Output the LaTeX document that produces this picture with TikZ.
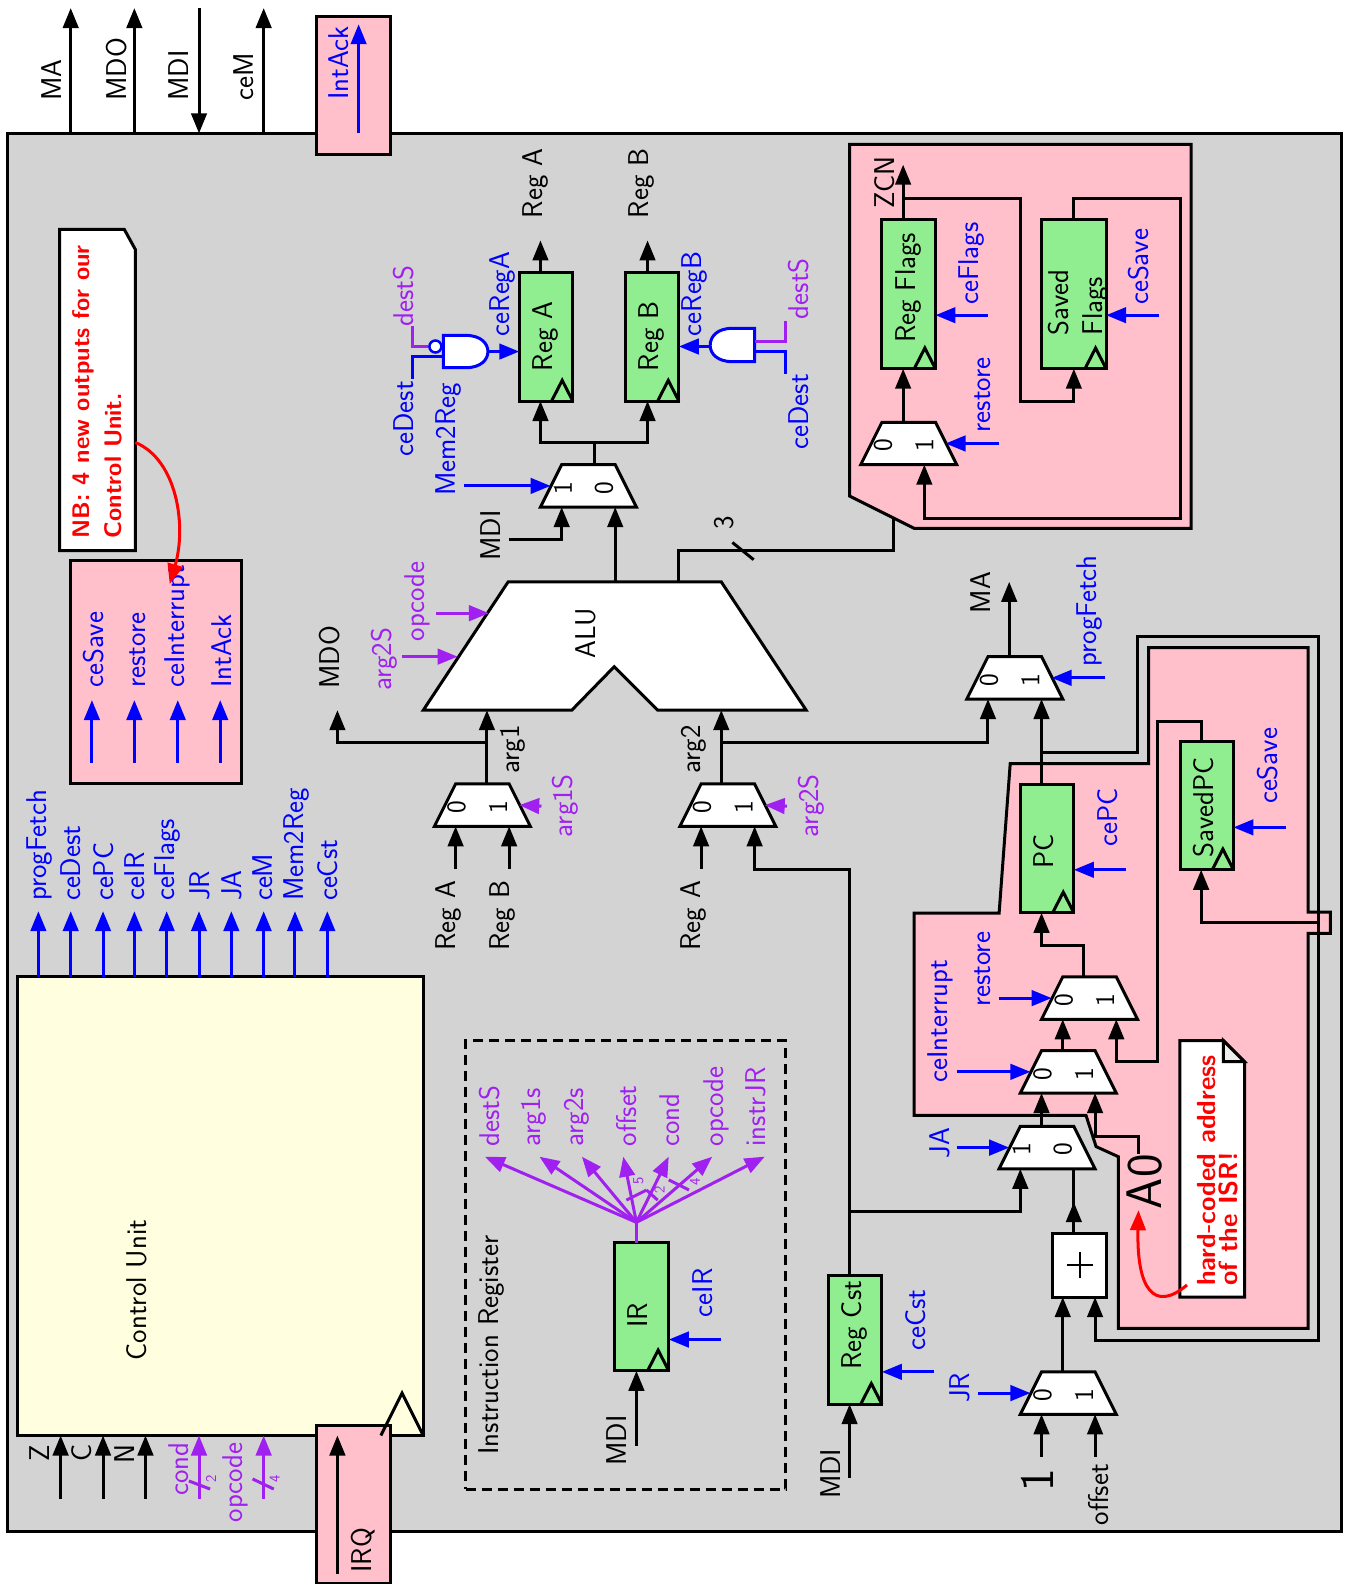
\documentclass[tikz,border=0pt]{standalone}
\usepackage{fontspec}
\renewcommand\familydefault{\sfdefault}
\usetikzlibrary{arrows.meta,fit}
\definecolor{cgray}{HTML}{D3D3D3}
\definecolor{cpink}{HTML}{FFC0CB}
\definecolor{cgreen}{HTML}{90EE90}
\definecolor{cyel}{HTML}{FFFFE0}
\definecolor{cpur}{HTML}{A020F0}
\definecolor{cblue}{HTML}{0000FF}
\definecolor{cred}{HTML}{FF0000}
\tikzset{
  bw/.style={draw=black,line width=3pt},
  bl/.style={draw=cblue,line width=3pt},
  pu/.style={draw=cpur,line width=3pt},
  rd/.style={draw=cred,line width=3pt},
  shapebox/.style={draw=black,line width=3pt,line join=miter},
  regbox/.style={shapebox,fill=cgreen,inner sep=0pt,outer sep=0pt},
  lbl/.style={rotate=90,anchor=base west,inner sep=0pt,font=\fontsize{28.6}{30}\selectfont},
  clbl/.style={rotate=90,anchor=base,inner sep=0pt,font=\fontsize{28.6}{30}\selectfont},
  notelbl/.style={rotate=90,anchor=base west,inner sep=0pt,text=cred,font=\bfseries\fontsize{24}{26}\selectfont},
  hclbl/.style={rotate=90,anchor=base west,inner sep=0pt,text=cred,font=\bfseries\fontsize{26.2}{28}\selectfont},
  dig/.style={rotate=90,anchor=center,inner sep=0pt,font=\fontsize{27}{28}\selectfont},
  tiny/.style={rotate=90,anchor=center,inner sep=0pt,text=cpur,font=\fontsize{15}{16}\selectfont},
}
% mux: name, left x, top y, left digit, right digit
\newcommand\mymux[5]{%
  \draw[shapebox,fill=white] (#2+21,#3) -- (#2+74,#3) -- (#2+95,#3+42) -- (#2,#3+42) -- cycle;
  \coordinate (#1-a) at (#2+21,#3+42);
  \coordinate (#1-b) at (#2+74,#3+42);
  \coordinate (#1-ol) at (#2+42,#3);
  \coordinate (#1-or) at (#2+53,#3);
  \coordinate (#1-sl) at (#2+10,#3+21);
  \coordinate (#1-sr) at (#2+84,#3+21);
  \node[dig] (#1-da) at (#2+22,#3+23) {#4};
  \node[dig] (#1-db) at (#2+63,#3+23) {#5};
}
% register: name, x1, y1, x2, y2, data pin x, enable y
\newcommand\myreg[7]{%
  \node[regbox,fit={(#2,#3)(#4,#5)}] (#1) {};
  \draw[shapebox] (#4-21,#5) -- (#4-10.5,#5-20.5) -- (#4,#5);
  \coordinate (#1-q) at (#6,#3);
  \coordinate (#1-d) at (#6,#5);
  \coordinate (#1-ce) at (#4,#7);
  \coordinate (#1-cw) at (#2,#7);
}
% free-ended signal: name of free end, style, free end, named target
\newcommand\mysig[4]{\coordinate (#1) at (#3); \draw[#2,->] (#1) -- (#4);}
\newcommand\mylab[5]{\node[lbl,text=#2] (#1) at (#3,#4) {#5};}
\begin{document}
\begin{tikzpicture}[x=1.0105pt,y=-1.0105pt,>={Triangle[length=20pt,width=15.5pt]},line join=miter]
\useasboundingbox (0,0) rectangle (1333,1568);
% main board
\node[shapebox,fill=cgray,inner sep=0pt,outer sep=0pt,fit={(7,132)(1328,1516)}] (board) {};
% external pins
\coordinate (pMA) at (70,132); \coordinate (xMA) at (70,8); \draw[bw,->] (pMA) -- (xMA);
\coordinate (pMDO) at (133,132); \coordinate (xMDO) at (133,8); \draw[bw,->] (pMDO) -- (xMDO);
\coordinate (xMDI) at (197,8); \coordinate (pMDI) at (197,132); \draw[bw,->] (xMDI) -- (pMDI);
\coordinate (pceM) at (261,132); \coordinate (xceM) at (261,8); \draw[bw,->] (pceM) -- (xceM);
\mylab{tMA}{black}{61}{100}{MA}
\mylab{tMDO}{black}{125}{100}{MDO}
\mylab{tMDI}{black}{187}{100}{MDI}
\mylab{tceM}{black}{251}{100}{ceM}
\node[shapebox,fill=cpink,inner sep=0pt,outer sep=0pt,fit={(313,16)(387,153)}] (ackbox) {};
\coordinate (ackA) at (355,132); \coordinate (ackB) at (355,24); \draw[bl,->] (ackA) -- (ackB);
\mylab{tack}{cblue}{345}{99}{IntAck}
% NB note
\draw[shapebox,fill=white] (59,227) -- (123,227) -- (134,247) -- (134,545) -- (59,545) -- cycle;
\node[notelbl] (nb1) at (89,533) {NB: 4 new outputs for our};
\node[notelbl] (nb2) at (120,533) {Control Unit.};
% new outputs box
\node[shapebox,fill=cpink,inner sep=0pt,outer sep=0pt,fit={(70,555)(239,776)}] (newbox) {};
\coordinate (na1) at (91,755); \coordinate (nb1t) at (91,693); \draw[bl,->] (na1) -- (nb1t);
\coordinate (na2) at (133,755); \coordinate (nb2t) at (133,693); \draw[bl,->] (na2) -- (nb2t);
\coordinate (na3) at (176,755); \coordinate (nb3t) at (176,693); \draw[bl,->] (na3) -- (nb3t);
\coordinate (na4) at (218,755); \coordinate (nb4t) at (218,693); \draw[bl,->] (na4) -- (nb4t);
\mylab{tn1}{cblue}{102}{681}{ceSave}
\mylab{tn2}{cblue}{144}{681}{restore}
\mylab{tn3}{cblue}{183}{681}{ceInterrupt}
\mylab{tn4}{cblue}{229}{681}{IntAck}
\coordinate (nbS) at (134,438); \coordinate (nbE) at (168,578);
\draw[rd,->] (nbS) .. controls (175,455) and (185,520) .. (nbE);
% control unit
\node[shapebox,fill=cyel,inner sep=0pt,outer sep=0pt,fit={(17,967)(419,1421)}] (cu) {};
\node[clbl] (cutxt) at (145,1277) {Control Unit};
\coordinate (o1) at (38,967); \coordinate (e1) at (38,902); \draw[bl,->] (o1) -- (e1);
\coordinate (o2) at (70,967); \coordinate (e2) at (70,902); \draw[bl,->] (o2) -- (e2);
\coordinate (o3) at (102,967); \coordinate (e3) at (102,902); \draw[bl,->] (o3) -- (e3);
\coordinate (o4) at (133,967); \coordinate (e4) at (133,902); \draw[bl,->] (o4) -- (e4);
\coordinate (o5) at (165,967); \coordinate (e5) at (165,902); \draw[bl,->] (o5) -- (e5);
\coordinate (o6) at (197,967); \coordinate (e6) at (197,902); \draw[bl,->] (o6) -- (e6);
\coordinate (o7) at (229,967); \coordinate (e7) at (229,902); \draw[bl,->] (o7) -- (e7);
\coordinate (o8) at (261,967); \coordinate (e8) at (261,902); \draw[bl,->] (o8) -- (e8);
\coordinate (o9) at (292,967); \coordinate (e9) at (292,902); \draw[bl,->] (o9) -- (e9);
\coordinate (o10) at (324,967); \coordinate (e10) at (324,902); \draw[bl,->] (o10) -- (e10);
\mylab{tu1}{cblue}{46}{892}{progFetch}
\mylab{tu2}{cblue}{80}{892}{ceDest}
\mylab{tu3}{cblue}{112}{892}{cePC}
\mylab{tu4}{cblue}{143}{892}{ceIR}
\mylab{tu5}{cblue}{173}{892}{ceFlags}
\mylab{tu6}{cblue}{207}{892}{JR}
\mylab{tu7}{cblue}{239}{892}{JA}
\mylab{tu8}{cblue}{270}{892}{ceM}
\mylab{tu9}{cblue}{300}{892}{Mem2Reg}
\mylab{tu10}{cblue}{334}{892}{ceCst}
% CU inputs
\coordinate (iz) at (60,1484); \coordinate (tz) at (60,1421); \draw[bw,->] (iz) -- (tz);
\coordinate (ic) at (102,1484); \coordinate (tc) at (102,1421); \draw[bw,->] (ic) -- (tc);
\coordinate (in) at (144,1484); \coordinate (tn) at (144,1421); \draw[bw,->] (in) -- (tn);
\coordinate (icd) at (197,1484); \coordinate (tcd) at (197,1421); \draw[pu,->] (icd) -- (tcd);
\coordinate (iop) at (261,1484); \coordinate (top) at (261,1421); \draw[pu,->] (iop) -- (top);
\mylab{tz1}{black}{49}{1447}{Z}
\mylab{tc1}{black}{91}{1447}{C}
\mylab{tn1b}{black}{133}{1449}{N}
\mylab{tcd1}{cpur}{187}{1481}{cond}
\mylab{top1}{cpur}{240}{1507}{opcode}
\coordinate (tk1a) at (187,1466); \coordinate (tk1b) at (208,1474); \draw[pu] (tk1a) -- (tk1b);
\coordinate (tk2a) at (250,1464); \coordinate (tk2b) at (271,1474); \draw[pu] (tk2a) -- (tk2b);
\node[tiny] (tk1t) at (209,1464) {2};
\node[tiny] (tk2t) at (272,1464) {4};
% IRQ
\node[shapebox,fill=cpink,inner sep=0pt,outer sep=0pt,fit={(313,1411)(387,1567)}] (irqbox) {};
\coordinate (irqA) at (334,1558); \coordinate (irqB) at (334,1421); \draw[bw,->] (irqA) -- (irqB);
\mylab{tirq}{black}{368}{1557}{IRQ}
\coordinate (ckA) at (377,1421); \coordinate (ckB) at (398,1379); \coordinate (ckC) at (419,1421);
\draw[shapebox] (ckA) -- (ckB) -- (ckC);
% registers A B
\myreg{rega}{514}{270}{567}{397}{535}{348}
\myreg{regb}{619}{270}{672}{397}{641}{343}
\node[clbl] (trega) at (547,333) {Reg A};
\node[clbl] (tregb) at (652,333) {Reg B};
\coordinate (qa) at (535,238); \draw[bw,->] (rega-q) -- (qa);
\coordinate (qb) at (641,238); \draw[bw,->] (regb-q) -- (qb);
\mylab{tqa}{black}{537}{216}{Reg A}
\mylab{tqb}{black}{642}{216}{Reg B}
% gates
\draw[bl,fill=white] (439,332) -- (461,332) .. controls (476,332) and (483,340) .. (483,348) .. controls (483,356) and (476,364) .. (461,364) -- (439,364) -- cycle;
\node[circle,draw=cblue,line width=2.5pt,fill=white,inner sep=0pt,minimum size=12pt] (bub) at (431,343) {};
\coordinate (ga) at (483,348); \draw[bl,->] (ga) -- (rega-cw);
\coordinate (gb) at (408,323); \draw[pu] (gb) -- (408,343) -- (bub);
\coordinate (gc) at (408,375); \draw[bl] (gc) -- (408,353) -- (439,353);
\draw[bl,fill=white] (747,325) -- (725,325) .. controls (710,325) and (703,333) .. (703,342) .. controls (703,350) and (710,358) .. (725,358) -- (747,358) -- cycle;
\coordinate (gd) at (703,343); \draw[bl,->] (gd) -- (regb-ce);
\coordinate (ge) at (778,318); \draw[pu] (ge) -- (778,338) -- (747,338);
\coordinate (gf) at (778,370); \draw[bl] (gf) -- (778,348) -- (747,348);
\mylab{tg1}{cpur}{409}{323}{destS}
\mylab{tg2}{cblue}{409}{452}{ceDest}
\mylab{tg3}{cblue}{504}{333}{ceRegA}
\mylab{tg4}{cblue}{694}{333}{ceRegB}
\mylab{tg5}{cpur}{800}{316}{destS}
\mylab{tg6}{cblue}{800}{445}{ceDest}
% mem2reg mux
\mymux{mem}{535}{460}{1}{0}
\coordinate (jm) at (588,438);
\draw[bw] (mem-or) -- (jm);
\draw[bw,->] (jm) -| (rega-d);
\draw[bw,->] (jm) -| (regb-d);
\mysig{memS}{bl}{459,481}{mem-sl}
\mylab{tm2r}{cblue}{451}{491}{Mem2Reg}
\coordinate (mdiB) at (504,534); \draw[bw,->] (mdiB) -| (mem-a);
\mylab{tmdiB}{black}{495}{555}{MDI}
% ALU
\draw[shapebox,fill=white] (503,576) -- (714,576) -- (798,703) -- (651,703) -- (608,660) -- (566,703) -- (419,703) -- cycle;
\node[clbl] (talu) at (589,627) {ALU};
\coordinate (alu-o) at (609,576);
\coordinate (alu-f) at (672,576);
\coordinate (alu-a1) at (482,703);
\coordinate (alu-a2) at (714,703);
\coordinate (alu-s1) at (484,607);
\coordinate (alu-s2) at (453,650);
\draw[bw,->] (alu-o) -- (mem-b);
\coordinate (fzin) at (884,512);
\mysig{aluS1}{pu}{432,607}{alu-s1}
\mysig{aluS2}{pu}{398,650}{alu-s2}
\mylab{tal1}{cpur}{420}{635}{opcode}
\mylab{tal2}{cpur}{388}{684}{arg2S}
% arg muxes
\mymux{aone}{430}{776}{0}{1}
\mymux{atwo}{673}{776}{0}{1}
\coordinate (aone-o) at (482,776); \coordinate (atwo-o) at (714,776);
\draw[bw,->] (aone-o) -- (alu-a1);
\draw[bw,->] (atwo-o) -- (alu-a2);
\coordinate (j1) at (482,735); \coordinate (mdoT) at (334,703); \draw[bw,->] (j1) -| (mdoT);
\mylab{tmdo}{black}{336}{682}{MDO}
\mylab{targ1}{black}{514}{766}{arg1}
\mylab{targ2}{black}{693}{766}{arg2}
\mysig{s1}{pu}{536,798}{aone-sr}
\mysig{s2}{pu}{779,798}{atwo-sr}
\mylab{ts1}{cpur}{567}{829}{arg1S}
\mylab{ts2}{cpur}{810}{829}{arg2S}
\mysig{ia}{bw}{451,860}{aone-a}
\mysig{ib}{bw}{504,860}{aone-b}
\mysig{ic2}{bw}{694,860}{atwo-a}
\mylab{tia}{black}{451}{941}{Reg A}
\mylab{tib}{black}{504}{941}{Reg B}
\mylab{tic}{black}{693}{941}{Reg A}
% flags zone
\draw[shapebox,fill=cpink] (841,143) -- (1179,143) -- (1179,523) -- (905,523) -- (841,491) -- cycle;
\draw[bw] (alu-f) -- (672,545) -- (884,545) -- (fzin);
\coordinate (tk3a) at (725,537); \coordinate (tk3b) at (746,554); \draw[bw] (tk3a) -- (tk3b);
\node[clbl] (t3) at (726,517) {3};
\myreg{freg}{873}{217}{926}{365}{894}{312}
\myreg{sflg}{1031}{217}{1095}{365}{1063}{312}
\node[clbl] (tfreg) at (906,285) {Reg Flags};
\mylab{tsf1}{black}{1058}{332}{Saved}
\mylab{tsf2}{black}{1091}{332}{Flags}
\coordinate (zcn) at (894,163); \draw[bw,->] (freg-q) -- (zcn);
\mylab{tzcn}{black}{885}{207}{ZCN}
\mysig{cfl}{bl}{978,312}{freg-ce}
\mysig{csv}{bl}{1147,312}{sflg-ce}
\mylab{tcfl}{cblue}{969}{302}{ceFlags}
\mylab{tcsv}{cblue}{1137}{302}{ceSave}
\coordinate (jz) at (894,196);
\draw[bw,->] (jz) -- (1010,196) -- (1010,397) -- (1063,397) -- (sflg-d);
\mymux{flg}{852}{418}{0}{1}
\coordinate (flg-in) at (915,460);
\draw[bw,->] (flg-ol) -- (freg-d);
\draw[bw,->] (sflg-q) -- (1063,196) -- (1169,196) -- (1169,513) -- (915,513) -- (flg-in);
\mysig{rs1}{bl}{989,439}{flg-sr}
\mylab{trs1}{cblue}{980}{428}{restore}
% PC zone
\draw[shapebox,fill=cpink] (1137,641) -- (1295,641) -- (1295,903) -- (1317,903) -- (1317,924) -- (1295,924) -- (1295,1315) -- (1107,1315) -- (1107,1145) -- (1085,1135) -- (1075,1104) -- (905,1104) -- (905,904) -- (989,904) -- (1000,756) -- (1137,756) -- cycle;
% MA mux
\mymux{ma}{957}{650}{0}{1}
\coordinate (maT) at (999,576); \draw[bw,->] (ma-ol) -- (maT);
\mylab{tma}{black}{980}{607}{MA}
\mysig{pf}{bl}{1094,671}{ma-sr}
\mylab{tpf}{cblue}{1085}{660}{progFetch}
\coordinate (j2) at (714,735); \draw[bw,->] (j2) -| (ma-a);
% PC
\myreg{pc}{1010.5}{777}{1063}{903.6}{1031}{861}
\node[clbl] (tpc) at (1043,843) {PC};
\draw[bw,->] (pc-q) -- (ma-b);
\mysig{cpc}{bl}{1115,861}{pc-ce}
\mylab{tcpc}{cblue}{1106}{838}{cePC}
\mymux{rest}{1031}{967}{0}{1}
\draw[bw,->] (rest-ol) -- (1073,936) -- (1031,936) -- (pc-d);
\mysig{rs2}{bl}{989,988}{rest-sl}
\mylab{trs2}{cblue}{980}{997}{restore}
% SavedPC
\myreg{spc}{1169}{734}{1221}{861}{1189}{819}
\node[clbl] (tspc) at (1201,799) {SavedPC};
\mysig{csp}{bl}{1273,819}{spc-ce}
\mylab{tcsp}{cblue}{1265}{796}{ceSave}
\draw[bw,->] (spc-q) -- (1189,714) -- (1146,714) -- (1146,1051) -- (1105,1051) -- (rest-b);
% interrupt mux
\mymux{intr}{1010}{1040}{0}{1}
\draw[bw,->] (intr-ol) -- (rest-a);
\mysig{cin}{bl}{947,1061}{intr-sl}
\mylab{tcin}{cblue}{938}{1072}{ceInterrupt}
% JA mux
\mymux{ja}{989}{1115}{1}{0}
\draw[bw,->] (ja-ol) -- (intr-a);
\mysig{jas}{bl}{947,1136}{ja-sl}
\mylab{tja}{cblue}{940}{1147}{JA}
% A0
\node[lbl,font=\fontsize{50}{52}\selectfont] (a0) at (1150,1197) {A0};
\coordinate (a0w) at (1127,1142);
\draw[bw,->] (a0w) -- (1127,1125) -- (1084,1125) -- (intr-b);
% adder
\node[shapebox,fill=white,inner sep=0pt,outer sep=0pt,fit={(1042,1221)(1095,1284)}] (add) {};
\draw[black,line width=1.8pt] (1056,1252) -- (1082,1252) (1069,1239) -- (1069,1265);
\coordinate (add-o) at (1063,1221); \coordinate (add-m) at (1063,1190);
\coordinate (add-a) at (1052,1284); \coordinate (add-b) at (1084,1284);
\draw[bw] (add-o) -- (ja-b);
\draw[bw,->] (add-o) -- (add-m);
% JR mux
\mymux{jr}{1010}{1358}{0}{1}
\draw[bw,->] (jr-ol) -- (add-a);
\mysig{jrs}{bl}{968,1379}{jr-sl}
\mylab{tjr}{cblue}{960}{1389}{JR}
\mysig{one}{bw}{1031,1442}{jr-a}
\mysig{ofs}{bw}{1084,1442}{jr-b}
\node[clbl,font=\fontsize{48}{50}\selectfont] (t1) at (1043,1465) {1};
\mylab{tofs}{black}{1097}{1510}{offset}
% PC bus
\coordinate (jpc) at (1031,745);
\draw[bw,->] (jpc) -- (1126,745) -- (1126,630) -- (1305,630) -- (1305,1327) -- (1084,1327) -- (add-b);
\coordinate (jsv) at (1305,913); \draw[bw,->] (jsv) -| (spc-d);
% note hard-coded
\draw[shapebox,fill=white] (1168,1030) -- (1211,1030) -- (1232,1051) -- (1232,1284) -- (1168,1284) -- cycle;
\draw[shapebox,fill=cgray!40] (1211,1030) -- (1211,1051) -- (1232,1051) -- cycle;
\node[hclbl] (hc1) at (1203,1273) {hard-coded address};
\node[hclbl] (hc2) at (1225,1273) {of the ISR!};
\coordinate (hcS) at (1175,1272); \coordinate (hcE) at (1127,1198);
\draw[rd,->] (hcS) .. controls (1142,1300) and (1125,1275) .. (hcE);
% Reg Cst
\myreg{cst}{820}{1263}{873}{1390}{841}{1358}
\node[clbl] (tcst) at (853,1312) {Reg Cst};
\mysig{mdiC}{bw}{841,1463}{cst-d}
\mylab{tmdiC}{black}{832}{1484}{MDI}
\mysig{ccs}{bl}{925,1358}{cst-ce}
\mylab{tccs}{cblue}{916}{1337}{ceCst}
\draw[bw,->] (cst-q) -- (841,861) -- (747,861) -- (atwo-b);
\coordinate (jc) at (841,1199); \draw[bw,->] (jc) -| (ja-a);
% Instruction register
\node[draw=black,line width=3pt,dash pattern=on 10pt off 6pt,inner sep=0pt,outer sep=0pt,fit={(461,1030)(778,1474)}] (irzone) {};
\mylab{tirz}{black}{493}{1440}{Instruction Register}
\myreg{ir}{608.6}{1230}{662}{1357}{630}{1326}
\node[clbl] (tir) at (641,1302) {IR};
\mysig{mdiI}{bw}{630,1431}{ir-d}
\mylab{tmdiI}{black}{620}{1451}{MDI}
\mysig{cir}{bl}{714,1326}{ir-ce}
\mylab{tcir}{cblue}{705}{1304}{ceIR}
\coordinate (fan) at (630,1210);
\draw[pu] (ir-q) -- (fan);
\coordinate (f1) at (480,1145); \draw[pu,->] (fan) -- (f1);
\coordinate (f2) at (534,1145); \draw[pu,->] (fan) -- (f2);
\coordinate (f3) at (576,1145); \draw[pu,->] (fan) -- (f3);
\coordinate (f4) at (617,1145); \draw[pu,->] (fan) -- (f4);
\coordinate (f5) at (662,1145); \draw[pu,->] (fan) -- (f5);
\coordinate (f6) at (705,1145); \draw[pu,->] (fan) -- (f6);
\coordinate (f7) at (757,1145); \draw[pu,->] (fan) -- (f7);
\mylab{tf1}{cpur}{494}{1135}{destS}
\mylab{tf2}{cpur}{535}{1135}{arg1s}
\mylab{tf3}{cpur}{578}{1135}{arg2s}
\mylab{tf4}{cpur}{630}{1135}{offset}
\mylab{tf5}{cpur}{673}{1135}{cond}
\mylab{tf6}{cpur}{716}{1135}{opcode}
\mylab{tf7}{cpur}{758}{1135}{instrJR}
\coordinate (tk4a) at (620,1188); \coordinate (tk4b) at (640,1178); \draw[pu] (tk4a) -- (tk4b);
\coordinate (tk5a) at (640,1178); \coordinate (tk5b) at (651,1188); \draw[pu] (tk5a) -- (tk5b);
\coordinate (tk6a) at (662,1168); \coordinate (tk6b) at (682,1178); \draw[pu] (tk6a) -- (tk6b);
\node[tiny] (tk4t) at (632,1169) {5};
\node[tiny] (tk5t) at (653,1178) {2};
\node[tiny] (tk6t) at (688,1170) {4};
\end{tikzpicture}
\end{document}
